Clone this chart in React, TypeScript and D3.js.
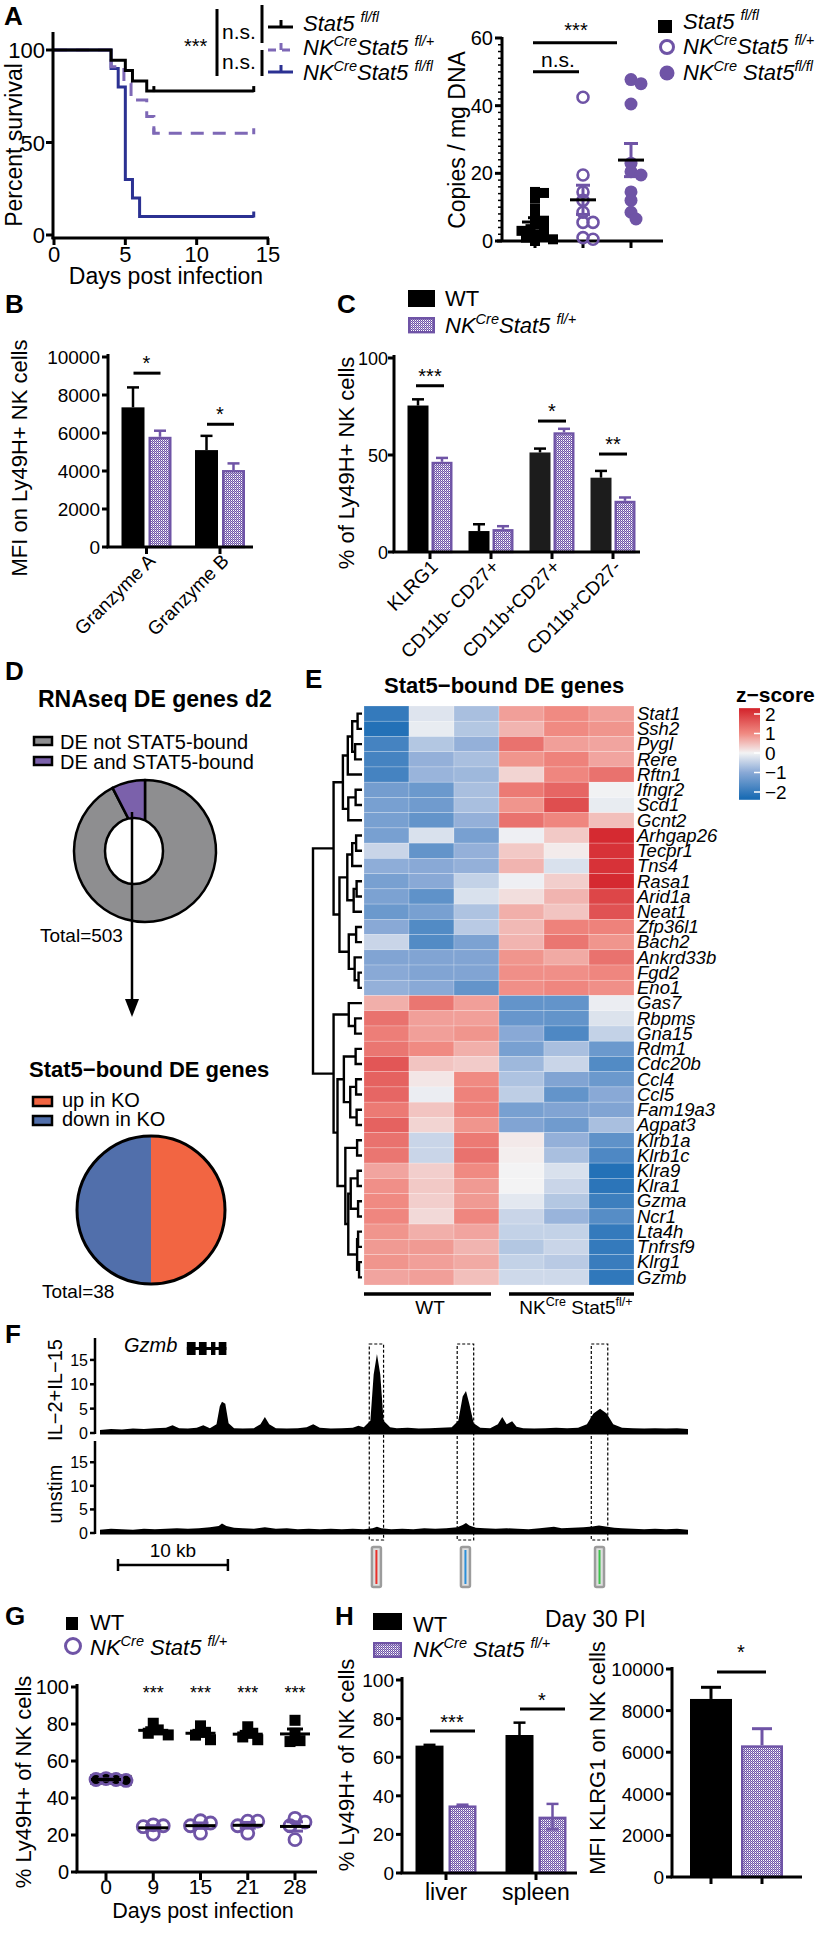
import React from "react";
import * as d3 from "d3";

const FF = "'Liberation Sans', Arial, Helvetica, sans-serif";
const PURPLE = "#6f54a6";
const KM_PURPLE = "#7e68b6";
const KM_BLUE = "#2b3192";
const NB = "\u00A0";

// ---------------- DATA ----------------
// A: Kaplan–Meier survival [day, % survival]
const kmFlfl: [number, number][] = [[0, 100], [4, 94.4], [5, 88.9], [5.5, 83.3], [6.5, 77.8], [14, 77.8]];
const kmHet: [number, number][] = [[0, 100], [4, 91], [4.9, 82], [5.4, 73], [6.5, 64], [7, 55], [14, 55]];
const kmKo: [number, number][] = [[0, 100], [4, 90], [4.5, 80], [5, 30], [5.5, 20], [6, 10], [14, 10]];
const kmCensorFlfl = [7, 14];
const kmCensorHet = [7, 14];
const kmCensorKo = [14];
const kmXTicks = [0, 5, 10, 15];
const kmYTicks = [0, 50, 100];

// A: viral copies / mg DNA
const copiesFlfl = [14.5, 14.2, 12.5, 9.5, 7, 6, 5, 4, 3.5, 3, 2, 1.5, 1, 0.5, 0];
const copiesHet = [42.5, 19.5, 14.5, 12, 8.5, 5.5, 5.5, 1, 0.5];
const copiesKo = [47.7, 46.5, 40.5, 23, 20.5, 19.5, 14.5, 12, 8.5, 6.5];
const copiesYTicks = [0, 20, 40, 60];
const copiesSigY = [58.6, 50];

// B: granzyme MFI
const gzmCats = ["Granzyme A", "Granzyme B"];
const gzmWT = [7350, 5100];
const gzmWTsem = [1050, 750];
const gzmKO = [5800, 4050];
const gzmKOsem = [320, 350];
const gzmSig = ["*", "*"];
const gzmSigY = [9150, 6460];
const gzmTicks = [0, 2000, 4000, 6000, 8000, 10000];

// C: subsets
const subsetCats = ["KLRG1", "CD11b- CD27+", "CD11b+CD27+", "CD11b+CD27-"];
const subsetWT = [75.5, 10.8, 51.3, 38.3];
const subsetWTsem = [3.2, 3.5, 2.0, 3.5];
const subsetKO = [46.5, 11.8, 61.7, 26.4];
const subsetKOsem = [2.0, 1.5, 1.8, 1.7];
const subsetSig = ["***", "", "*", "**"];
const subsetSigY = [85.7, 0, 67.5, 50.5];
const subsetTicks = [0, 50, 100];

// D: pies
const rnaseqLabels = ["DE not STAT5-bound", "DE and STAT5-bound"];
const rnaseqCounts = [465, 38];
const boundLabels = ["up in KO", "down in KO"];
const boundCounts = [19, 19];

// E: heatmap
const heatGenes = ["Stat1", "Ssh2", "Pygl", "Rere", "Rftn1", "Ifngr2", "Scd1", "Gcnt2", "Arhgap26", "Tecpr1", "Tns4", "Rasa1", "Arid1a", "Neat1", "Zfp36l1", "Bach2", "Ankrd33b", "Fgd2", "Eno1", "Gas7", "Rbpms", "Gna15", "Rdm1", "Cdc20b", "Ccl4", "Ccl5", "Fam19a3", "Agpat3", "Klrb1a", "Klrb1c", "Klra9", "Klra1", "Gzma", "Ncr1", "Lta4h", "Tnfrsf9", "Klrg1", "Gzmb"];
const heatZ = [
  [-2.0, -0.2, -0.7, 0.8, 1.0, 0.8],
  [-2.2, -0.1, -0.6, 0.6, 1.0, 0.9],
  [-1.8, -0.6, -0.9, 1.3, 0.8, 0.75],
  [-1.8, -0.9, -0.7, 0.9, 1.1, 0.75],
  [-1.8, -0.85, -0.8, 0.3, 1.05, 1.3],
  [-1.25, -1.35, -0.7, 1.2, 1.45, -0.02],
  [-1.2, -1.3, -0.7, 0.9, 1.75, -0.1],
  [-1.2, -1.45, -0.9, 1.3, 1.05, 0.5],
  [-1.2, -0.25, -1.2, -0.05, 0.4, 2.2],
  [-0.4, -1.45, -0.9, 0.4, 0.08, 2.1],
  [-0.95, -1.0, -0.9, 0.6, -0.25, 2.1],
  [-1.2, -1.0, -0.45, -0.05, 0.35, 2.2],
  [-1.15, -1.5, -0.25, 0.2, 0.6, 1.85],
  [-1.35, -1.2, -0.65, 0.65, 0.45, 1.7],
  [-1.0, -1.65, -0.55, 0.55, 1.1, 1.1],
  [-0.4, -1.65, -1.15, 0.6, 1.25, 0.9],
  [-1.1, -1.1, -1.1, 0.9, 0.7, 1.3],
  [-1.0, -1.1, -1.1, 0.95, 0.95, 1.05],
  [-0.9, -1.0, -1.45, 0.95, 1.05, 0.95],
  [0.65, 1.25, 0.8, -1.45, -1.45, -0.08],
  [1.3, 0.8, 0.8, -1.4, -1.45, -0.22],
  [1.15, 0.8, 0.9, -1.0, -1.7, -0.45],
  [1.25, 1.0, 0.65, -1.2, -0.7, -1.35],
  [1.65, 0.45, 0.38, -0.8, -0.4, -1.65],
  [1.5, 0.12, 1.0, -0.65, -1.1, -1.35],
  [1.45, -0.08, 1.1, -0.5, -1.45, -1.0],
  [1.2, 0.45, 1.1, -1.2, -1.1, -1.1],
  [1.5, 0.3, 0.9, -1.1, -1.3, -0.7],
  [1.3, -0.4, 1.2, 0.1, -0.9, -1.5],
  [1.25, -0.4, 1.3, 0.05, -0.7, -1.7],
  [0.75, 0.35, 1.0, 0.0, -0.25, -2.2],
  [0.95, 0.4, 0.85, 0.0, -0.4, -2.1],
  [1.0, 0.35, 0.85, -0.15, -0.6, -1.9],
  [1.05, 0.25, 1.05, -0.4, -0.85, -1.6],
  [0.9, 0.65, 0.75, -0.45, -0.45, -2.0],
  [0.85, 0.85, 0.6, -0.6, -0.4, -2.0],
  [0.9, 0.8, 0.7, -0.45, -0.55, -1.95],
  [0.75, 0.8, 0.5, -0.35, -0.35, -2.05],
];
type DNode = string | [DNode, DNode, number];
const heatDendro: DNode = [
  [
    [
      [[["Stat1", "Ssh2", 0.9], ["Pygl", "Rere", 1.4], 2.0], "Rftn1", 2.9],
      [["Ifngr2", "Scd1", 1.3], "Gcnt2", 2.8],
      3.9,
    ],
    [
      [[["Arhgap26", "Tecpr1", 1.2], "Tns4", 2.0], [["Rasa1", "Arid1a", 1.1], "Neat1", 1.7], 3.0],
      [["Zfp36l1", "Bach2", 1.2], ["Ankrd33b", ["Fgd2", "Eno1", 0.7], 1.5], 2.7],
      4.6,
    ],
    5.8,
  ],
  [
    ["Gas7", ["Rbpms", "Gna15", 1.4], 2.7],
    [
      [["Rdm1", "Cdc20b", 1.3], [["Ccl4", "Ccl5", 1.2], ["Fam19a3", "Agpat3", 1.1], 2.4], 3.7],
      [["Klrb1a", "Klrb1c", 1.0], [[["Klra9", "Klra1", 0.9], ["Gzma", "Ncr1", 0.8], 2.3], [["Lta4h", "Tnfrsf9", 0.8], ["Klrg1", "Gzmb", 0.6], 1.0], 2.8], 3.4],
      5.0,
    ],
    5.8,
  ],
  10,
];
const zTicks = [2, 1, 0, -1, -2];

// F: ChIP-seq tracks [kb, signal]
const il2Track: [number, number][] = [[0, 0.6], [1, 0.8], [2, 0.7], [3, 0.9], [4, 0.8], [5, 1.0], [6, 1.1], [6.6, 1.6], [7.2, 1.0], [8, 0.9], [8.8, 1.1], [9.4, 1.6], [10, 1.0], [10.6, 1.8], [10.9, 5.5], [11.1, 6.4], [11.4, 6.0], [11.7, 2.0], [12.2, 1.0], [13, 0.9], [14, 1.0], [14.6, 1.8], [15, 3.3], [15.4, 1.8], [16, 1.0], [17, 0.9], [18, 1.0], [18.8, 1.2], [19.4, 1.8], [20, 1.1], [21, 0.9], [22, 1.0], [23, 1.1], [23.5, 1.5], [24, 1.2], [24.6, 2.5], [24.9, 12], [25.2, 16.2], [25.5, 12], [25.8, 2.5], [26.4, 1.2], [27, 1.0], [28, 1.1], [29, 0.9], [30, 1.0], [31, 1.1], [32, 1.2], [32.6, 2.5], [33.0, 7.5], [33.3, 8.6], [33.6, 6.0], [34, 2.0], [34.6, 1.1], [35.5, 1.0], [36.2, 1.8], [36.6, 3.3], [37.0, 1.8], [37.5, 2.4], [37.9, 1.3], [38.5, 1.0], [39.5, 0.9], [40.5, 1.0], [41.5, 1.1], [42.5, 1.0], [43.5, 1.1], [44.3, 1.8], [44.9, 4.0], [45.5, 5.0], [46.1, 4.0], [46.7, 1.8], [47.5, 1.1], [48.5, 1.0], [49.5, 0.9], [50.5, 1.0], [51.5, 0.9], [52.5, 1.0], [53.5, 0.8]];
const unstimTrack: [number, number][] = [[0, 0.7], [1, 0.9], [2, 0.8], [3, 0.7], [4, 0.9], [5, 0.8], [6, 0.9], [7, 1.0], [8, 0.9], [9, 1.0], [10, 1.2], [10.8, 1.5], [11.1, 2.0], [11.5, 1.5], [12.2, 1.1], [13, 1.0], [14, 0.9], [15, 1.2], [16, 0.9], [17, 1.0], [18, 0.8], [19, 0.9], [20, 0.8], [21, 0.9], [22, 0.8], [23, 0.9], [24, 0.8], [24.8, 1.0], [25.2, 1.3], [25.6, 1.0], [26.5, 0.8], [27.5, 0.9], [28.5, 0.8], [29.5, 1.0], [30.5, 0.9], [31.5, 1.0], [32.5, 1.2], [33.0, 1.7], [33.3, 2.1], [33.6, 1.6], [34.2, 1.1], [35, 1.0], [36, 0.9], [37, 1.0], [38, 0.9], [39, 0.8], [40, 1.0], [41.3, 1.3], [42, 1.0], [43, 1.1], [44, 1.2], [44.8, 1.4], [45.4, 1.6], [46, 1.4], [46.8, 1.1], [47.5, 1.0], [48.5, 0.9], [49.5, 0.8], [50.5, 0.9], [51.5, 0.8], [52.5, 0.9], [53.5, 0.7]];
const gzmbExons: [number, number][] = [[7.9, 8.7], [9.0, 9.7], [10.1, 10.5], [10.8, 11.5]];
const peakBoxes: [number, number][] = [[24.5, 25.8], [32.5, 34.0], [44.7, 46.2]];
const peakColors = ["#e8302b", "#2b8fd9", "#3cc34b"];
const trackTicks = [0, 5, 10, 15];

// G: time course
const gDays = ["0", "9", "15", "21", "28"];
const gWT = [[50.5, 50, 49.5, 50], [80.4, 76.8, 75, 74.1], [79, 75.5, 74, 71.5], [78.5, 75, 73, 71.5], [82, 75, 71, 70.5]];
const gKO = [[50, 49.5, 50.5, 50], [25.5, 25, 24.5, 20.5], [27.7, 26.5, 25, 21], [27.5, 27.5, 25, 21], [29, 27, 25, 17.5]];
const gSig = ["", "***", "***", "***", "***"];
const gTicks = [0, 20, 40, 60, 80, 100];

// H: day 30
const hCats = ["liver", "spleen"];
const hWT = [66, 71.5];
const hWTsem = [0.4, 6.4];
const hKO = [35, 29.2];
const hKOsem = [0.4, 6.6];
const hSig = ["***", "*"];
const hSigY = [73.6, 85];
const klrgCats = ["WT", "KO"];
const klrgMean = [8560, 6330];
const klrgSem = [560, 800];
const klrgSigY = 9855;
const klrgTicks = [0, 2000, 4000, 6000, 8000, 10000];

// ---------------- HELPERS ----------------
const mean = (a: number[]) => d3.mean(a) as number;
const sem = (a: number[]) => (d3.deviation(a) as number) / Math.sqrt(a.length);

function swarm(values: number[], yS: (v: number) => number, cx: number, minDist: number, step: number) {
  const placed: { x: number; y: number }[] = [];
  const order = values.map((_, i) => i).sort((a, b) => values[b] - values[a]);
  order.forEach((i) => {
    const py = yS(values[i]);
    for (let k = 0; k < 40; k++) {
      const off = k === 0 ? 0 : (k % 2 === 1 ? 1 : -1) * Math.ceil(k / 2) * step;
      const px = cx + off;
      if (placed.every((p) => Math.hypot(p.x - px, p.y - py) >= minDist) || k === 39) {
        placed.push({ x: px, y: py });
        break;
      }
    }
  });
  return placed;
}

function Geno({ x, y, fs, parts, anchor = "start", italic = true }: any) {
  let sup = false;
  return (
    <text x={x} y={y} fontSize={fs} fontStyle={italic ? "italic" : "normal"} textAnchor={anchor}>
      {parts.map((p: [string, boolean], i: number) => {
        const [t, s] = p;
        let dy = 0;
        if (s && !sup) dy = -0.42 * fs;
        if (!s && sup) dy = 0.42 * fs;
        sup = s;
        return (
          <tspan key={i} dy={dy} fontSize={s ? fs * 0.66 : fs}>
            {t}
          </tspan>
        );
      })}
    </text>
  );
}
const G_FLFL: [string, boolean][] = [["Stat5" + NB, false], ["fl/fl", true]];
const G_HET: [string, boolean][] = [["NK", false], ["Cre", true], ["Stat5" + NB, false], ["fl/+", true]];
const G_HET2: [string, boolean][] = [["NK", false], ["Cre", true], [NB + "Stat5" + NB, false], ["fl/+", true]];
const G_KO: [string, boolean][] = [["NK", false], ["Cre", true], [NB + "Stat5", false], ["fl/fl", true]];
const G_KO_A: [string, boolean][] = [["NK", false], ["Cre", true], ["Stat5" + NB, false], ["fl/fl", true]];

const K = "#000";

function VLabel({ x, y, fs, children }: any) {
  return (
    <text transform={`translate(${x},${y}) rotate(-90)`} textAnchor="middle" fontSize={fs}>
      {children}
    </text>
  );
}

// ---------------- PANELS ----------------
function PanelA() {
  const x = d3.scaleLinear([0, 15], [54, 268]);
  const y = d3.scaleLinear([0, 100], [235, 50]);
  const line = d3.line<[number, number]>().x((d) => x(d[0])).y((d) => y(d[1])).curve(d3.curveStepAfter);
  const valAt = (km: [number, number][], t: number) => {
    let v = km[0][1];
    km.forEach(([d, s]) => {
      if (d <= t) v = s;
    });
    return v;
  };
  const series = [
    { km: kmKo, cens: kmCensorKo, color: KM_BLUE, dash: undefined as any },
    { km: kmHet, cens: kmCensorHet, color: KM_PURPLE, dash: "13,9" },
    { km: kmFlfl, cens: kmCensorFlfl, color: K, dash: undefined as any },
  ];
  return (
    <g>
      <text x={4} y={25} fontSize={26} fontWeight="bold">A</text>
      {series.map((s, i) => (
        <g key={i}>
          <path d={line(s.km) || ""} fill="none" stroke={s.color} strokeWidth={3} strokeDasharray={s.dash} />
          {s.cens.map((t) => (
            <line key={t} x1={x(t)} x2={x(t)} y1={y(valAt(s.km, t)) + 1} y2={y(valAt(s.km, t)) - 5} stroke={s.color} strokeWidth={3} />
          ))}
        </g>
      ))}
      <line x1={53} x2={53} y1={32} y2={239} stroke={K} strokeWidth={3} />
      <line x1={51.5} x2={269} y1={238} y2={238} stroke={K} strokeWidth={3} />
      {kmXTicks.map((t) => (
        <g key={t}>
          <line x1={x(t)} x2={x(t)} y1={238} y2={245} stroke={K} strokeWidth={3} />
          <text x={x(t)} y={262} fontSize={22} textAnchor="middle">{t}</text>
        </g>
      ))}
      {kmYTicks.map((t) => (
        <g key={t}>
          <line x1={46} x2={53} y1={y(t)} y2={y(t)} stroke={K} strokeWidth={3} />
          <text x={45} y={y(t) + 8} fontSize={22} textAnchor="end">{t}</text>
        </g>
      ))}
      <VLabel x={22} y={145} fs={23}>Percent survival</VLabel>
      <text x={166} y={284} fontSize={23} textAnchor="middle">Days post infection</text>
      {/* stats */}
      <text x={184} y={53} fontSize={20}>***</text>
      <line x1={217} x2={217} y1={9} y2={76} stroke={K} strokeWidth={3} />
      <text x={222} y={39} fontSize={21}>n.s.</text>
      <text x={222} y={69} fontSize={21}>n.s.</text>
      <line x1={262} x2={262} y1={5} y2={43} stroke={K} strokeWidth={3} />
      <line x1={262} x2={262} y1={50} y2={76} stroke={K} strokeWidth={3} />
      {[
        { c: K, yy: 27, dash: undefined as any },
        { c: KM_PURPLE, yy: 50, dash: "8,6" },
        { c: KM_BLUE, yy: 72, dash: undefined as any },
      ].map((l, i) => (
        <g key={i}>
          <line x1={268} x2={293} y1={l.yy} y2={l.yy} stroke={l.c} strokeWidth={3} strokeDasharray={l.dash} />
          <line x1={281} x2={281} y1={l.yy} y2={l.yy - 7} stroke={l.c} strokeWidth={3} />
        </g>
      ))}
      <Geno x={303} y={31} fs={22} parts={G_FLFL} />
      <Geno x={303} y={55} fs={22} parts={G_HET} />
      <Geno x={303} y={80} fs={22} parts={G_KO_A} />
    </g>
  );
}

function PanelACopies() {
  const y = d3.scaleLinear([0, 60], [241, 38]);
  const xg = d3.scalePoint(["flfl", "het", "ko"], [535, 631]);
  const groups = [
    { key: "flfl", vals: copiesFlfl, kind: "square", wc: K },
    { key: "het", vals: copiesHet, kind: "open", wc: PURPLE },
    { key: "ko", vals: copiesKo, kind: "fill", wc: PURPLE },
  ];
  const minor = d3.range(0, 61, 2);
  return (
    <g>
      <line x1={502} x2={502} y1={37} y2={242} stroke={K} strokeWidth={3} />
      <line x1={497} x2={663} y1={241} y2={241} stroke={K} strokeWidth={3} />
      {minor.map((t) => (
        <line key={t} x1={498} x2={502} y1={y(t)} y2={y(t)} stroke={K} strokeWidth={1.5} />
      ))}
      {copiesYTicks.map((t) => (
        <g key={t}>
          <line x1={495} x2={502} y1={y(t)} y2={y(t)} stroke={K} strokeWidth={3} />
          <text x={493} y={y(t) + 7} fontSize={20} textAnchor="end">{t}</text>
        </g>
      ))}
      {groups.map((g) => (
        <line key={g.key} x1={xg(g.key)} x2={xg(g.key)} y1={241} y2={248} stroke={K} strokeWidth={3} />
      ))}
      <VLabel x={465} y={140} fs={23}>Copies / mg DNA</VLabel>
      {groups.map((g) => {
        const cx = xg(g.key) as number;
        const pts = swarm(g.vals, y, cx, g.kind === "square" ? 6.5 : 8, g.kind === "square" ? 4.5 : 5);
        const m = mean(g.vals);
        const s = sem(g.vals);
        return (
          <g key={g.key}>
            {pts.map((p, i) =>
              g.kind === "square" ? (
                <rect key={i} x={p.x - 5} y={p.y - 5} width={10} height={10} fill={K} />
              ) : g.kind === "open" ? (
                <circle key={i} cx={p.x} cy={p.y} r={5.5} fill="none" stroke={PURPLE} strokeWidth={2.6} />
              ) : (
                <circle key={i} cx={p.x} cy={p.y} r={6.5} fill={PURPLE} />
              )
            )}
            <line x1={cx} x2={cx} y1={y(m - s)} y2={y(m + s)} stroke={g.wc} strokeWidth={3} />
            <line x1={cx - 7} x2={cx + 7} y1={y(m + s)} y2={y(m + s)} stroke={g.wc} strokeWidth={3} />
            <line x1={cx - 7} x2={cx + 7} y1={y(m - s)} y2={y(m - s)} stroke={g.wc} strokeWidth={3} />
            <line x1={cx - 13} x2={cx + 13} y1={y(m)} y2={y(m)} stroke={K} strokeWidth={3} />
          </g>
        );
      })}
      <line x1={533} x2={617} y1={y(copiesSigY[0])} y2={y(copiesSigY[0])} stroke={K} strokeWidth={3} />
      <text x={576} y={y(copiesSigY[0]) - 6} fontSize={20} textAnchor="middle">***</text>
      <line x1={533} x2={579} y1={y(copiesSigY[1])} y2={y(copiesSigY[1])} stroke={K} strokeWidth={3} />
      <text x={558} y={y(copiesSigY[1]) - 5} fontSize={21} textAnchor="middle">n.s.</text>
      {/* legend */}
      <rect x={658} y={20} width={14} height={13} fill={K} />
      <circle cx={667} cy={47} r={6.5} fill="none" stroke={PURPLE} strokeWidth={3} />
      <circle cx={667} cy={73} r={7.5} fill={PURPLE} />
      <Geno x={683} y={29} fs={22} parts={G_FLFL} />
      <Geno x={683} y={54} fs={22} parts={G_HET} />
      <Geno x={683} y={80} fs={22} parts={G_KO} />
    </g>
  );
}

function Bars({ cats, xc, y, wt, wtSem, ko, koSem, w, gap, koBoth, wtColor }: any) {
  return (
    <g>
      {cats.map((c: string, i: number) => {
        const cx = xc(c);
        const x0 = cx - gap / 2 - w;
        const x1 = cx + gap / 2;
        const y0 = y(0);
        return (
          <g key={c}>
            <line x1={x0 + w / 2} x2={x0 + w / 2} y1={y(wt[i])} y2={y(wt[i] + wtSem[i])} stroke={K} strokeWidth={2.5} />
            <line x1={x0 + w / 2 - 6} x2={x0 + w / 2 + 6} y1={y(wt[i] + wtSem[i])} y2={y(wt[i] + wtSem[i])} stroke={K} strokeWidth={2.5} />
            <rect x={x0} y={y(wt[i])} width={w} height={y0 - y(wt[i])} fill={wtColor ? wtColor[i] : K} />
            <rect x={x1 + 1.2} y={y(ko[i]) + 1.2} width={w - 2.4} height={y0 - y(ko[i]) - 1.2} fill="url(#hatch)" stroke={PURPLE} strokeWidth={2.4} />
            <line x1={x1 + w / 2} x2={x1 + w / 2} y1={koBoth ? y(ko[i] - koSem[i]) : y(ko[i])} y2={y(ko[i] + koSem[i])} stroke={PURPLE} strokeWidth={2.5} />
            <line x1={x1 + w / 2 - 6} x2={x1 + w / 2 + 6} y1={y(ko[i] + koSem[i])} y2={y(ko[i] + koSem[i])} stroke={PURPLE} strokeWidth={2.5} />
            {koBoth ? <line x1={x1 + w / 2 - 6} x2={x1 + w / 2 + 6} y1={y(ko[i] - koSem[i])} y2={y(ko[i] - koSem[i])} stroke={PURPLE} strokeWidth={2.5} /> : null}
          </g>
        );
      })}
    </g>
  );
}

function PanelB() {
  const y = d3.scaleLinear([0, 10000], [547, 357]);
  const xc = d3.scalePoint(gzmCats, [146.5, 220]);
  return (
    <g>
      <text x={5} y={313} fontSize={26} fontWeight="bold">B</text>
      <Bars cats={gzmCats} xc={xc} y={y} wt={gzmWT} wtSem={gzmWTsem} ko={gzmKO} koSem={gzmKOsem} w={23} gap={4} />
      <line x1={108} x2={108} y1={354} y2={548} stroke={K} strokeWidth={3} />
      <line x1={106.5} x2={253} y1={547} y2={547} stroke={K} strokeWidth={3} />
      {gzmTicks.map((t) => (
        <g key={t}>
          <line x1={102} x2={108} y1={y(t)} y2={y(t)} stroke={K} strokeWidth={3} />
          <text x={100} y={y(t) + 7} fontSize={19} textAnchor="end">{t}</text>
        </g>
      ))}
      {gzmCats.map((c, i) => (
        <g key={c}>
          <line x1={xc(c)} x2={xc(c)} y1={547} y2={554} stroke={K} strokeWidth={3} />
          <text transform={`translate(${(xc(c) as number) + 10},${562}) rotate(-45)`} textAnchor="end" fontSize={19}>{c}</text>
          <line x1={(xc(c) as number) - 13} x2={(xc(c) as number) + 14} y1={y(gzmSigY[i])} y2={y(gzmSigY[i])} stroke={K} strokeWidth={3} />
          <text x={xc(c)} y={y(gzmSigY[i]) - 3} fontSize={20} textAnchor="middle">{gzmSig[i]}</text>
        </g>
      ))}
      <VLabel x={27} y={458} fs={22}>MFI on Ly49H+ NK cells</VLabel>
    </g>
  );
}

function PanelC() {
  const y = d3.scaleLinear([0, 100], [552, 358]);
  const xc = d3.scalePoint(subsetCats, [430, 613]);
  return (
    <g>
      <text x={337} y={313} fontSize={26} fontWeight="bold">C</text>
      <rect x={408} y={290} width={27} height={17} fill={K} />
      <text x={445} y={306} fontSize={22}>WT</text>
      <rect x={409.2} y={318.2} width={24.6} height={14} fill="url(#hatch)" stroke={PURPLE} strokeWidth={2.4} />
      <Geno x={445} y={333} fs={22} parts={G_HET} />
      <Bars cats={subsetCats} xc={xc} y={y} wt={subsetWT} wtSem={subsetWTsem} ko={subsetKO} koSem={subsetKOsem} w={21} gap={3} wtColor={["#000", "#000", "#1c1c1c", "#1c1c1c"]} />
      <line x1={394} x2={394} y1={355} y2={553} stroke={K} strokeWidth={3} />
      <line x1={392.5} x2={640} y1={552} y2={552} stroke={K} strokeWidth={3} />
      {subsetTicks.map((t) => (
        <g key={t}>
          <line x1={388} x2={394} y1={y(t)} y2={y(t)} stroke={K} strokeWidth={3} />
          <text x={388} y={y(t) + 7} fontSize={18} textAnchor="end">{t}</text>
        </g>
      ))}
      {subsetCats.map((c, i) => (
        <g key={c}>
          <line x1={xc(c)} x2={xc(c)} y1={552} y2={559} stroke={K} strokeWidth={3} />
          <text transform={`translate(${(xc(c) as number) + 9},${568}) rotate(-45)`} textAnchor="end" fontSize={19}>{c}</text>
          {subsetSig[i] ? (
            <g>
              <line x1={(xc(c) as number) - 14} x2={(xc(c) as number) + 14} y1={y(subsetSigY[i])} y2={y(subsetSigY[i])} stroke={K} strokeWidth={3} />
              <text x={xc(c)} y={y(subsetSigY[i]) - 3} fontSize={20} textAnchor="middle">{subsetSig[i]}</text>
            </g>
          ) : null}
        </g>
      ))}
      <VLabel x={354} y={463} fs={22}>% of Ly49H+ NK cells</VLabel>
    </g>
  );
}

function PanelD() {
  const pie = d3.pie<number>().sort(null);
  const arcs1 = pie(rnaseqCounts);
  const arc1 = d3.arc<any>().innerRadius(0).outerRadius(71);
  const col1 = ["#8e8e90", "#7b61ab"];
  const arcs2 = pie(boundCounts);
  const arc2 = d3.arc<any>().innerRadius(0).outerRadius(74);
  const col2 = ["#f26542", "#516fab"];
  return (
    <g>
      <text x={5} y={680} fontSize={26} fontWeight="bold">D</text>
      <text x={38} y={707} fontSize={23} fontWeight="bold">RNAseq DE genes d2</text>
      {rnaseqLabels.map((l, i) => (
        <g key={l}>
          <rect x={34} y={737 + i * 20} width={18} height={8} fill={col1[i]} stroke={K} strokeWidth={2.5} />
          <text x={60} y={749 + i * 20} fontSize={20}>{l}</text>
        </g>
      ))}
      <g transform="translate(145,851)">
        {arcs1.map((a, i) => (
          <path key={i} d={arc1(a) || ""} fill={col1[i]} stroke={K} strokeWidth={2.5} strokeLinejoin="round" />
        ))}
      </g>
      <ellipse cx={134} cy={851} rx={29} ry={33} fill="#fff" stroke={K} strokeWidth={2.5} />
      <line x1={132} x2={132} y1={812} y2={1002} stroke={K} strokeWidth={2.5} />
      <polygon points="125,999 139,999 132,1017" fill={K} />
      <text x={40} y={942} fontSize={19}>Total=503</text>
      <text x={29} y={1077} fontSize={22} fontWeight="bold">Stat5−bound DE genes</text>
      {boundLabels.map((l, i) => (
        <g key={l}>
          <rect x={33} y={1097 + i * 19} width={19} height={9} fill={col2[i]} stroke={K} strokeWidth={2.5} />
          <text x={62} y={1107 + i * 19} fontSize={20}>{l}</text>
        </g>
      ))}
      <g transform="translate(151,1210)">
        {arcs2.map((a, i) => (
          <path key={i} d={arc2(a) || ""} fill={col2[i]} />
        ))}
        <circle r={74} fill="none" stroke={K} strokeWidth={3} />
      </g>
      <text x={42} y={1298} fontSize={19}>Total=38</text>
    </g>
  );
}

function PanelE() {
  const rows = d3.scaleBand(heatGenes, [706, 1285]);
  const cols = d3.scaleBand(d3.range(6), [364, 634]);
  const color = d3
    .scaleLinear<string>()
    .domain([-2.3, -1, 0, 1, 2.3])
    .range(["#1b6cb4", "#89a9d6", "#f3f3f4", "#f08a82", "#d3222a"])
    .clamp(true);
  const hx = d3.scaleLinear([0, 10], [362, 313]);
  const segs: string[] = [];
  const lay = (n: DNode): { x: number; y: number } => {
    if (typeof n === "string") return { x: hx(0), y: (rows(n) as number) + rows.bandwidth() / 2 };
    const a = lay(n[0]);
    const b = lay(n[1]);
    const x = hx(n[2]);
    segs.push(`M${a.x},${a.y}H${x}V${b.y}H${b.x}`);
    return { x, y: (a.y + b.y) / 2 };
  };
  lay(heatDendro);
  const zy = d3.scaleLinear([-2, 2], [792, 714]);
  const stops = d3.range(-2.4, 2.31, 0.1);
  return (
    <g>
      <defs>
        <linearGradient id="zgrad" x1="0" x2="0" y1={zy(2.3)} y2={zy(-2.4)} gradientUnits="userSpaceOnUse">
          {stops
            .slice()
            .reverse()
            .map((v, i, arr) => (
              <stop key={i} offset={i / (arr.length - 1)} stopColor={color(v)} />
            ))}
        </linearGradient>
      </defs>
      <text x={305} y={688} fontSize={26} fontWeight="bold">E</text>
      <text x={384} y={693} fontSize={22} fontWeight="bold">Stat5−bound DE genes</text>
      {heatGenes.map((g, r) =>
        heatZ[r].map((v, c) => (
          <rect key={g + c} x={cols(c)} y={rows(g)} width={cols.bandwidth()} height={rows.bandwidth()} fill={color(v)} stroke="rgba(255,255,255,0.35)" strokeWidth={0.6} />
        ))
      )}
      {segs.map((d, i) => (
        <path key={i} d={d} fill="none" stroke={K} strokeWidth={2.4} />
      ))}
      {heatGenes.map((g) => (
        <text key={g} x={637} y={(rows(g) as number) + rows.bandwidth() / 2 + 6.3} fontSize={18.5} fontStyle="italic">{g}</text>
      ))}
      <text x={736} y={702} fontSize={21} fontWeight="bold">z−score</text>
      <rect x={739} y={zy(2.3)} width={21} height={zy(-2.4) - zy(2.3)} fill="url(#zgrad)" />
      {zTicks.map((t) => (
        <g key={t}>
          <line x1={754} x2={760} y1={zy(t)} y2={zy(t)} stroke="#fff" strokeWidth={1.5} />
          <text x={765} y={zy(t) + 6.5} fontSize={19}>{t < 0 ? "−" + Math.abs(t) : String(t)}</text>
        </g>
      ))}
      <line x1={cols(0)} x2={(cols(2) as number) + cols.bandwidth() - 8} y1={1294} y2={1294} stroke={K} strokeWidth={3.5} />
      <line x1={(cols(3) as number) + 10} x2={634} y1={1294} y2={1294} stroke={K} strokeWidth={3.5} />
      <text x={430} y={1314} fontSize={19} textAnchor="middle">WT</text>
      <Geno x={576} y={1314} fs={19} italic={false} anchor="middle" parts={[["NK", false], ["Cre", true], [NB + "Stat5", false], ["fl/+", true]]} />
    </g>
  );
}

function PanelF() {
  const x = d3.scaleLinear([0, 53.5], [100, 688]);
  const y1 = d3.scaleLinear([0, 19.5], [1433, 1338]);
  const y2 = d3.scaleLinear([0, 19.5], [1533, 1441]);
  const area = (ys: any) => d3.area<[number, number]>().x((d) => x(d[0])).y0(ys(0) + 1.5).y1((d) => ys(d[1])).curve(d3.curveLinear);
  const tracks = [
    { ys: y1, data: il2Track, label: "IL−2+IL−15", ly: 1390 },
    { ys: y2, data: unstimTrack, label: "unstim", ly: 1494 },
  ];
  const sb0 = 118;
  const sbLen = x(10) - x(0);
  return (
    <g>
      <text x={5} y={1343} fontSize={26} fontWeight="bold">F</text>
      {tracks.map((t, i) => (
        <g key={i}>
          <path d={area(t.ys)(t.data) || ""} fill={K} />
          <line x1={95} x2={95} y1={t.ys(19.5)} y2={t.ys(0) + 1} stroke={K} strokeWidth={2.5} />
          {trackTicks.map((v) => (
            <g key={v}>
              <line x1={90} x2={95} y1={t.ys(v)} y2={t.ys(v)} stroke={K} strokeWidth={2.5} />
              <text x={88} y={t.ys(v) + 6} fontSize={16} textAnchor="end">{v}</text>
            </g>
          ))}
          <VLabel x={62} y={t.ly} fs={20}>{t.label}</VLabel>
        </g>
      ))}
      <text x={124} y={1352} fontSize={20} fontStyle="italic">Gzmb</text>
      <line x1={x(gzmbExons[0][0])} x2={x(gzmbExons[gzmbExons.length - 1][1])} y1={1348.5} y2={1348.5} stroke={K} strokeWidth={3} />
      {gzmbExons.map((e, i) => (
        <rect key={i} x={x(e[0])} y={1342} width={x(e[1]) - x(e[0])} height={13} fill={K} />
      ))}
      {peakBoxes.map((b, i) => (
        <g key={i}>
          <rect x={x(b[0])} y={1344} width={x(b[1]) - x(b[0])} height={196} fill="none" stroke={K} strokeWidth={1.2} strokeDasharray="3,2" />
          <rect x={x((b[0] + b[1]) / 2) - 4.5} y={1547} width={9} height={40} rx={1.5} fill="#dedede" stroke="#9c9c9c" strokeWidth={2.5} />
          <line x1={x((b[0] + b[1]) / 2)} x2={x((b[0] + b[1]) / 2)} y1={1550} y2={1584} stroke={peakColors[i]} strokeWidth={2} />
        </g>
      ))}
      <line x1={sb0} x2={sb0 + sbLen} y1={1565} y2={1565} stroke={K} strokeWidth={2.5} />
      <line x1={sb0} x2={sb0} y1={1559} y2={1571} stroke={K} strokeWidth={2.5} />
      <line x1={sb0 + sbLen} x2={sb0 + sbLen} y1={1559} y2={1571} stroke={K} strokeWidth={2.5} />
      <text x={sb0 + sbLen / 2} y={1557} fontSize={19} textAnchor="middle">10 kb</text>
    </g>
  );
}

function PanelG() {
  const y = d3.scaleLinear([0, 100], [1872, 1687]);
  const x = d3.scalePoint(gDays, [106, 295]);
  return (
    <g>
      <text x={5} y={1625} fontSize={26} fontWeight="bold">G</text>
      <rect x={66} y={1617} width={12} height={13} fill={K} />
      <text x={90} y={1630} fontSize={22}>WT</text>
      <circle cx={73} cy={1646} r={7.5} fill="none" stroke={PURPLE} strokeWidth={3} />
      <Geno x={90} y={1655} fs={22} parts={G_HET2} />
      <line x1={77} x2={77} y1={1684} y2={1873} stroke={K} strokeWidth={3} />
      <line x1={75.5} x2={317} y1={1872} y2={1872} stroke={K} strokeWidth={3} />
      {gTicks.map((t) => (
        <g key={t}>
          <line x1={71} x2={77} y1={y(t)} y2={y(t)} stroke={K} strokeWidth={3} />
          <text x={69} y={y(t) + 7} fontSize={20} textAnchor="end">{t}</text>
        </g>
      ))}
      {gDays.map((d, i) => {
        const cx = x(d) as number;
        const pw = swarm(gWT[i], y, cx, 8, 5);
        const pk = swarm(gKO[i], y, cx, 8, 5);
        const mw = mean(gWT[i]), sw = sem(gWT[i]);
        const mk = mean(gKO[i]), sk = sem(gKO[i]);
        return (
          <g key={d}>
            <line x1={cx} x2={cx} y1={1872} y2={1880} stroke={K} strokeWidth={3} />
            <text x={cx} y={1894} fontSize={21} textAnchor="middle">{d}</text>
            {pw.map((p, j) => (
              <rect key={j} x={p.x - 5.5} y={p.y - 5.5} width={11} height={11} fill={K} />
            ))}
            {pk.map((p, j) => (
              <circle key={j} cx={p.x} cy={p.y} r={6} fill="none" stroke={PURPLE} strokeWidth={2.8} />
            ))}
            <line x1={cx} x2={cx} y1={y(mw - sw)} y2={y(mw + sw)} stroke={K} strokeWidth={3} />
            <line x1={cx - 8} x2={cx + 8} y1={y(mw + sw)} y2={y(mw + sw)} stroke={K} strokeWidth={3} />
            <line x1={cx - 8} x2={cx + 8} y1={y(mw - sw)} y2={y(mw - sw)} stroke={K} strokeWidth={3} />
            <line x1={cx - 15} x2={cx + 15} y1={y(mw)} y2={y(mw)} stroke={K} strokeWidth={3} />
            <line x1={cx} x2={cx} y1={y(mk - sk)} y2={y(mk + sk)} stroke={PURPLE} strokeWidth={3} />
            <line x1={cx - 8} x2={cx + 8} y1={y(mk + sk)} y2={y(mk + sk)} stroke={PURPLE} strokeWidth={3} />
            <line x1={cx - 8} x2={cx + 8} y1={y(mk - sk)} y2={y(mk - sk)} stroke={PURPLE} strokeWidth={3} />
            <line x1={cx - 15} x2={cx + 15} y1={y(mk)} y2={y(mk)} stroke={K} strokeWidth={3} />
            {gSig[i] ? <text x={cx} y={1699} fontSize={18} textAnchor="middle">{gSig[i]}</text> : null}
          </g>
        );
      })}
      <text x={203} y={1918} fontSize={21.5} textAnchor="middle">Days post infection</text>
      <VLabel x={31} y={1782} fs={22}>% Ly49H+ of NK cells</VLabel>
    </g>
  );
}

function PanelH() {
  const y = d3.scaleLinear([0, 100], [1873, 1680]);
  const xc = d3.scalePoint(hCats, [446, 536]);
  const y2 = d3.scaleLinear([0, 10000], [1877, 1669]);
  const x2 = d3.scalePoint(klrgCats, [711, 762]);
  return (
    <g>
      <text x={335} y={1625} fontSize={26} fontWeight="bold">H</text>
      <rect x={373} y={1613} width={29} height={17} fill={K} />
      <text x={413} y={1632} fontSize={22}>WT</text>
      <rect x={374.2} y={1643.2} width={26.6} height={13.6} fill="url(#hatch)" stroke={PURPLE} strokeWidth={2.4} />
      <Geno x={413} y={1657} fs={22} parts={G_HET2} />
      <text x={545} y={1627} fontSize={23}>Day 30 PI</text>
      <Bars cats={hCats} xc={xc} y={y} wt={hWT} wtSem={hWTsem} ko={hKO} koSem={hKOsem} w={28} gap={5} koBoth={true} />
      <line x1={402} x2={402} y1={1677} y2={1874} stroke={K} strokeWidth={3} />
      <line x1={400.5} x2={577} y1={1873} y2={1873} stroke={K} strokeWidth={3} />
      {gTicks.map((t) => (
        <g key={t}>
          <line x1={396} x2={402} y1={y(t)} y2={y(t)} stroke={K} strokeWidth={3} />
          <text x={394} y={y(t) + 7} fontSize={19} textAnchor="end">{t}</text>
        </g>
      ))}
      {hCats.map((c, i) => (
        <g key={c}>
          <line x1={xc(c)} x2={xc(c)} y1={1873} y2={1880} stroke={K} strokeWidth={3} />
          <text x={xc(c)} y={1900} fontSize={23} textAnchor="middle">{c}</text>
          <line x1={(xc(c) as number) - 16} x2={(xc(c) as number) + 29} y1={y(hSigY[i])} y2={y(hSigY[i])} stroke={K} strokeWidth={3} />
          <text x={(xc(c) as number) + 6} y={y(hSigY[i]) - 2} fontSize={20} textAnchor="middle">{hSig[i]}</text>
        </g>
      ))}
      <VLabel x={354} y={1765} fs={22}>% Ly49H+ of NK cells</VLabel>

      {/* KLRG1 MFI */}
      {klrgCats.map((c, i) => {
        const cx = x2(c) as number;
        const top = y2(klrgMean[i]);
        const eTop = y2(klrgMean[i] + klrgSem[i]);
        return i === 0 ? (
          <g key={c}>
            <line x1={cx} x2={cx} y1={top} y2={eTop} stroke={K} strokeWidth={3} />
            <line x1={cx - 10} x2={cx + 10} y1={eTop} y2={eTop} stroke={K} strokeWidth={3} />
            <rect x={cx - 21} y={top} width={42} height={y2(0) - top} fill={K} />
          </g>
        ) : (
          <g key={c}>
            <rect x={cx - 19.8} y={top + 1.2} width={39.6} height={y2(0) - top - 1.2} fill="url(#hatch)" stroke={PURPLE} strokeWidth={2.4} />
            <line x1={cx} x2={cx} y1={top} y2={eTop} stroke={PURPLE} strokeWidth={3} />
            <line x1={cx - 10} x2={cx + 10} y1={eTop} y2={eTop} stroke={PURPLE} strokeWidth={3} />
          </g>
        );
      })}
      <line x1={672} x2={672} y1={1667} y2={1878} stroke={K} strokeWidth={3} />
      <line x1={670.5} x2={802} y1={1877} y2={1877} stroke={K} strokeWidth={3} />
      {klrgTicks.map((t) => (
        <g key={t}>
          <line x1={666} x2={672} y1={y2(t)} y2={y2(t)} stroke={K} strokeWidth={3} />
          <text x={664} y={y2(t) + 7} fontSize={19} textAnchor="end">{t}</text>
        </g>
      ))}
      {klrgCats.map((c) => (
        <line key={c} x1={x2(c)} x2={x2(c)} y1={1877} y2={1884} stroke={K} strokeWidth={3} />
      ))}
      <line x1={717} x2={766} y1={y2(klrgSigY)} y2={y2(klrgSigY)} stroke={K} strokeWidth={3} />
      <text x={741} y={y2(klrgSigY) - 13} fontSize={20} textAnchor="middle">*</text>
      <VLabel x={605} y={1758} fs={22}>MFI KLRG1 on NK cells</VLabel>
    </g>
  );
}

export default function App() {
  return (
    <svg
      width={818}
      height={1950}
      viewBox="0 0 818 1950"
      style={{ position: "absolute", left: 0, top: 0, background: "#fff" }}
      fontFamily={FF}
    >
      <defs>
        <pattern id="hatch" width={2} height={2} patternUnits="userSpaceOnUse">
          <rect width={2} height={2} fill="#b3a6d6" />
          <rect x={0} y={0} width={1} height={1} fill={PURPLE} />
          <rect x={1} y={1} width={1} height={1} fill={PURPLE} />
          <rect x={1} y={0} width={1} height={1} fill="#ffffff" />
        </pattern>
      </defs>
      <rect width={818} height={1950} fill="#fff" />
      <PanelA />
      <PanelACopies />
      <PanelB />
      <PanelC />
      <PanelD />
      <PanelE />
      <PanelF />
      <PanelG />
      <PanelH />
    </svg>
  );
}
